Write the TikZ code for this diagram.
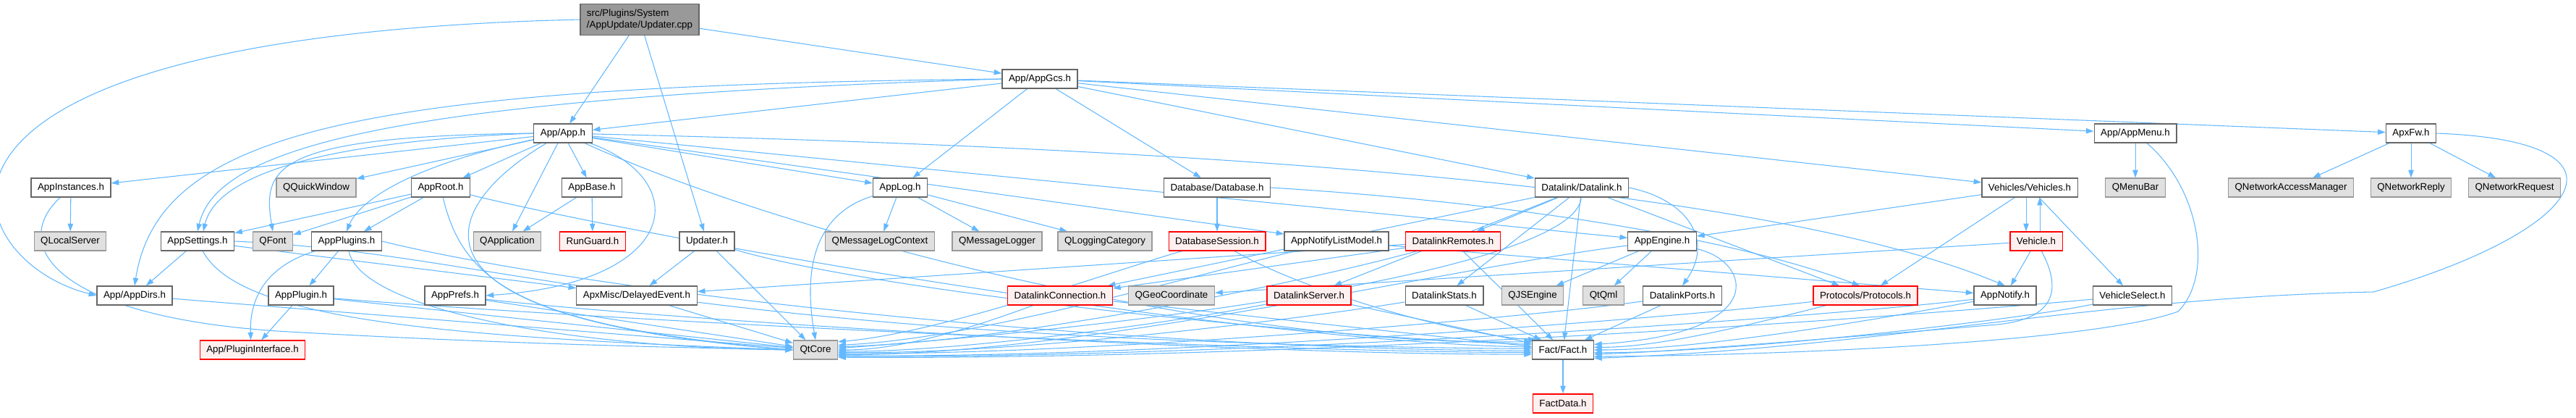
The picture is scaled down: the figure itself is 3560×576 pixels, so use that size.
\documentclass[tikz,border=0pt]{standalone}
\usepackage{fontspec}
\setmainfont{Liberation Sans}
\usetikzlibrary{arrows.meta}
\pgfdeclarelayer{edges}
\pgfsetlayers{edges,main}
\definecolor{edgeblue}{HTML}{63B8FF}
\definecolor{hdrline}{HTML}{666666}
\definecolor{extline}{HTML}{999999}
\definecolor{extfill}{HTML}{E0E0E0}
\definecolor{missfill}{HTML}{FFF0F0}
\definecolor{mainfill}{HTML}{999999}
\tikzset{
  hfile/.style={draw=hdrline, fill=white, line width=0.9pt, minimum height=19.5pt,
    inner xsep=6.8pt, inner ysep=0pt, font=\fontsize{10}{12}\selectfont},
  qtfile/.style={hfile, draw=extline, fill=extfill},
  missing/.style={hfile, draw=red, fill=missfill},
  mainfile/.style={hfile, fill=mainfill, align=left, minimum height=32pt},
  inc/.style={draw=edgeblue, line width=0.8pt, -{Triangle[length=8pt,width=5.5pt]}}
}
\begin{document}
\begin{tikzpicture}[x=0.75pt,y=0.75pt]
\useasboundingbox (0,0) rectangle (3560,-576);
\node[mainfile] (root) at (884,-27) {src/Plugins/System\\/AppUpdate/Updater.cpp};
\node[hfile] (gcs) at (1437,-109) {App/AppGcs.h};
\node[hfile] (app) at (778,-184) {App/App.h};
\node[hfile] (menu) at (2951,-184) {App/AppMenu.h};
\node[hfile] (apxfw) at (3332,-184) {ApxFw.h};
\node[hfile] (instances) at (98,-259) {AppInstances.h};
\node[qtfile] (quickwin) at (437,-259) {QQuickWindow};
\node[hfile] (rooth) at (609,-259) {AppRoot.h};
\node[hfile] (base) at (818,-259) {AppBase.h};
\node[hfile] (log) at (1244,-259) {AppLog.h};
\node[hfile] (database) at (1682,-259) {Database/Database.h};
\node[hfile] (datalink) at (2186,-259) {Datalink/Datalink.h};
\node[hfile] (vehicles) at (2805,-259) {Vehicles/Vehicles.h};
\node[qtfile] (menubar) at (2951,-259) {QMenuBar};
\node[qtfile] (qnam) at (3166,-259) {QNetworkAccessManager};
\node[qtfile] (qnreply) at (3332,-259) {QNetworkReply};
\node[qtfile] (qnrequest) at (3475,-259) {QNetworkRequest};
\node[qtfile] (localserver) at (97,-333) {QLocalServer};
\node[hfile] (settings) at (273,-333) {AppSettings.h};
\node[qtfile] (qfont) at (377,-333) {QFont};
\node[hfile] (plugins) at (479,-333) {AppPlugins.h};
\node[qtfile] (qapp) at (701,-333) {QApplication};
\node[missing] (runguard) at (819,-333) {RunGuard.h};
\node[hfile] (updater) at (977,-333) {Updater.h};
\node[qtfile] (qmlc) at (1216,-333) {QMessageLogContext};
\node[qtfile] (qmlogger) at (1378,-333) {QMessageLogger};
\node[qtfile] (qlogcat) at (1527,-333) {QLoggingCategory};
\node[missing] (dbsession) at (1682,-333) {DatabaseSession.h};
\node[hfile] (notifylist) at (1847,-333) {AppNotifyListModel.h};
\node[missing] (remotes) at (2008,-333) {DatalinkRemotes.h};
\node[hfile] (engine) at (2297,-333) {AppEngine.h};
\node[missing] (vehicle) at (2814,-333) {Vehicle.h};
\node[hfile] (dirs) at (186,-408) {App/AppDirs.h};
\node[hfile] (plugin) at (416,-408) {AppPlugin.h};
\node[hfile] (prefs) at (629,-408) {AppPrefs.h};
\node[hfile] (delayed) at (880,-408) {ApxMisc/DelayedEvent.h};
\node[missing] (connection) at (1465,-408) {DatalinkConnection.h};
\node[qtfile] (qgeo) at (1619,-408) {QGeoCoordinate};
\node[missing] (server) at (1809,-408) {DatalinkServer.h};
\node[hfile] (stats) at (1996,-408) {DatalinkStats.h};
\node[qtfile] (qjs) at (2118,-408) {QJSEngine};
\node[qtfile] (qtqml) at (2216,-408) {QtQml};
\node[hfile] (ports) at (2325,-408) {DatalinkPorts.h};
\node[missing] (protocols) at (2578,-408) {Protocols/Protocols.h};
\node[hfile] (notify) at (2771,-408) {AppNotify.h};
\node[hfile] (select) at (2947,-408) {VehicleSelect.h};
\node[missing] (plugiface) at (349,-483) {App/PluginInterface.h};
\node[qtfile] (qtcore) at (1127,-483) {QtCore};
\node[hfile] (fact) at (2160,-483) {Fact/Fact.h};
\node[missing] (factdata) at (2160,-557) {FactData.h};
\begin{pgfonlayer}{edges}
% Updater.cpp
\draw[inc] (root) -- (app);
\draw[inc] (root) -- (gcs);
\draw[inc] (root) -- (updater);
\draw[inc] (root.west) .. controls (-200,-50) and (-60,-360) .. (dirs.west);
% App/AppGcs.h
\draw[inc] (gcs) -- (app);
\draw[inc] (gcs.west) .. controls (500,-118) and (220,-180) .. (dirs.north);
\draw[inc] (gcs.west) .. controls (560,-135) and (300,-200) .. (settings.north);
\draw[inc] (gcs) -- (log);
\draw[inc] (gcs) -- (database);
\draw[inc] (gcs) -- (datalink);
\draw[inc] (gcs) -- (vehicles);
\draw[inc] (gcs) -- (menu);
\draw[inc] (gcs) -- (apxfw);
% App/App.h
\draw[inc] (app) -- (instances);
\draw[inc] (app) -- (quickwin);
\draw[inc] (app) -- (rooth);
\draw[inc] (app) -- (base);
\draw[inc] (app) -- (qapp);
\draw[inc] (app) -- (log);
\draw[inc] (app) -- (notifylist);
\draw[inc] (app) -- (engine);
\draw[inc] (app.west) .. controls (450,-195) and (300,-240) .. (settings.60);
\draw[inc] (app.west) .. controls (380,-188) and (362,-230) .. (qfont.north);
\draw[inc] (app) .. controls (560,-230) and (495,-280) .. (plugins.north);
\draw[inc] (app) .. controls (960,-250) and (940,-390) .. (prefs.east);
\draw[inc] (app) .. controls (600,-290) and (540,-440) .. (qtcore.west);
\draw[inc] (app) .. controls (1100,-330) and (1700,-480) .. (fact.165);
\draw[inc] (app) .. controls (1700,-205) and (2450,-260) .. (notify.north);
% left part
\draw[inc] (instances) -- (localserver);
\draw[inc] (instances) .. controls (10,-340) and (80,-440) .. (400,-458) .. controls (700,-475) and (950,-480) .. (qtcore.west);
\draw[inc] (rooth) -- (settings);
\draw[inc] (rooth) -- (qfont);
\draw[inc] (rooth) -- (plugins);
\draw[inc] (rooth) .. controls (900,-330) and (1700,-470) .. (fact.175);
\draw[inc] (rooth) .. controls (640,-390) and (720,-450) .. (qtcore.west);
\draw[inc] (base) -- (qapp);
\draw[inc] (base) -- (runguard);
\draw[inc] (settings) -- (dirs);
\draw[inc] (settings) -- (delayed);
\draw[inc] (settings) .. controls (330,-440) and (600,-465) .. (qtcore.west);
\draw[inc] (settings.east) .. controls (700,-350) and (900,-470) .. (fact.178);
\draw[inc] (plugins) -- (plugin);
\draw[inc] (plugins) .. controls (360,-370) and (345,-420) .. (plugiface.100);
\draw[inc] (plugins) .. controls (500,-430) and (800,-480) .. (qtcore.west);
\draw[inc] (plugins.east) .. controls (800,-400) and (1500,-480) .. (fact.182);
\draw[inc] (plugin) -- (plugiface);
\draw[inc] (plugin) -- (qtcore);
\draw[inc] (plugin) .. controls (800,-440) and (1700,-485) .. (fact.185);
\draw[inc] (dirs) -- (qtcore);
\draw[inc] (prefs) -- (qtcore);
\draw[inc] (prefs) .. controls (900,-440) and (1700,-490) .. (fact.188);
\draw[inc] (delayed) -- (qtcore);
\draw[inc] (updater) -- (delayed);
\draw[inc] (updater) -- (qtcore);
\draw[inc] (updater) .. controls (1200,-400) and (1800,-465) .. (fact.170);
% middle part
\draw[inc] (log) -- (qmlc);
\draw[inc] (log) -- (qmlogger);
\draw[inc] (log) -- (qlogcat);
\draw[inc] (log) .. controls (1110,-300) and (1115,-400) .. (qtcore.north);
\draw[inc] (database) -- (dbsession);
\draw[inc] (database.east) .. controls (2100,-280) and (2400,-330) .. (protocols.120);
\draw[inc] (dbsession) .. controls (1550,-370) and (1300,-460) .. (qtcore.20);
\draw[inc] (dbsession) .. controls (1800,-400) and (2000,-460) .. (fact.160);
\draw[inc] (notifylist) .. controls (1650,-380) and (1350,-468) .. (qtcore.12);
\draw[inc] (notifylist) -- (notify);
\draw[inc] (datalink) -- (remotes);
\draw[inc] (datalink) -- (connection);
\draw[inc] (datalink) -- (server);
\draw[inc] (datalink) -- (stats);
\draw[inc] (datalink) -- (protocols);
\draw[inc] (datalink.east) .. controls (2330,-275) and (2370,-330) .. (ports.north);
\draw[inc] (datalink) .. controls (2180,-360) and (1700,-440) .. (qtcore.4);
\draw[inc] (datalink) -- (fact);
\draw[inc] (remotes) -- (connection);
\draw[inc] (remotes) -- (delayed);
\draw[inc] (remotes) .. controls (1800,-390) and (1400,-472) .. (qtcore.8);
\draw[inc] (remotes) -- (fact);
\draw[inc] (connection) .. controls (1350,-450) and (1250,-483) .. (qtcore.0);
\draw[inc] (connection) -- (fact);
\draw[inc] (server) .. controls (1600,-450) and (1300,-487) .. (qtcore.-3);
\draw[inc] (server) -- (fact);
\draw[inc] (stats) .. controls (1800,-440) and (1400,-490) .. (qtcore.-6);
\draw[inc] (stats) -- (fact);
\draw[inc] (ports) .. controls (2100,-440) and (1500,-490) .. (qtcore.-9);
\draw[inc] (ports) -- (fact);
\draw[inc] (engine) -- (qjs);
\draw[inc] (engine) -- (qtqml);
\draw[inc] (engine) .. controls (2000,-370) and (1500,-490) .. (qtcore.-12);
\draw[inc] (engine) .. controls (2420,-360) and (2450,-460) .. (fact.10);
\draw[inc] (protocols) .. controls (2300,-440) and (1600,-495) .. (qtcore.-14);
\draw[inc] (protocols) .. controls (2450,-440) and (2300,-480) .. (fact.5);
% right part
\draw[inc] ([xshift=-3.75pt]vehicles.south) -- ([xshift=-10.5pt]vehicle.north);
\draw[inc] ([xshift=3.75pt]vehicle.north) -- ([xshift=10.5pt]vehicles.south);
\draw[inc] (vehicles) -- (engine);
\draw[inc] (vehicles) -- (protocols);
\draw[inc] (vehicles) -- (select);
\draw[inc] (vehicle) -- (notify);
\draw[inc] (vehicle) -- (qgeo);
\draw[inc] (vehicle) .. controls (2850,-400) and (2840,-440) .. (2760,-448) .. controls (2500,-470) and (2300,-486) .. (fact.-8);
\draw[inc] (notify) .. controls (2600,-440) and (2350,-483) .. (fact.0);
\draw[inc] (notify) .. controls (2500,-440) and (1700,-495) .. (qtcore.-16);
\draw[inc] (select) .. controls (2800,-440) and (2400,-487) .. (fact.-5);
\draw[inc] (select) .. controls (2600,-440) and (1800,-497) .. (qtcore.-18);
\draw[inc] (menu) -- (menubar);
\draw[inc] (menu) .. controls (3040,-260) and (3060,-380) .. (3010,-430) .. controls (2900,-470) and (2500,-490) .. (fact.-12);
\draw[inc] (apxfw) -- (qnam);
\draw[inc] (apxfw) -- (qnreply);
\draw[inc] (apxfw) -- (qnrequest);
\draw[inc] (apxfw.east) .. controls (3660,-195) and (3570,-320) .. (3280,-403) .. controls (2900,-410) and (2600,-480) .. (fact.-15);
\draw[inc] (fact) -- (factdata);
\end{pgfonlayer}
\end{tikzpicture}
\end{document}
